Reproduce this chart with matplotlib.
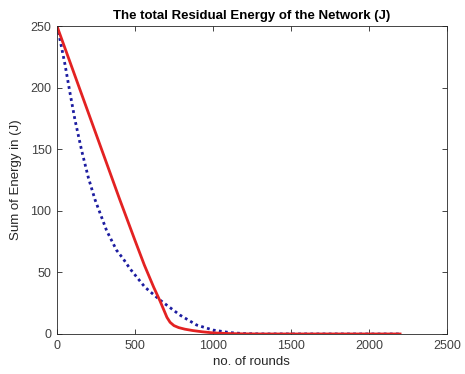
import matplotlib.pyplot as plt

# residual energy curves (rounds vs total joules left in the network)
rounds_a = [0, 100, 200, 300, 400, 500, 560, 620, 660, 685, 705, 725, 750, 780,
            820, 870, 930, 1000, 1100, 1200, 1300, 2200]
energy_a = [250, 215, 180, 145, 110, 76, 56, 38, 27, 19.5, 13.5, 9.5, 6.8, 5.2,
            3.9, 2.8, 1.8, 0.9, 0.35, 0.1, 0, 0]

rounds_b = [0, 13, 51, 83, 115, 158, 201, 244, 318, 382, 425, 468, 564, 660,
            788, 895, 1000, 1110, 1200, 1300, 2200]
energy_b = [250, 243, 219, 196, 174, 149, 127, 109, 84, 68, 61, 53, 38, 27.6,
            15.4, 7.3, 3.2, 1.1, 0.3, 0.05, 0]

xticks = [0, 500, 1000, 1500, 2000, 2500]
yticks = [0, 50, 100, 150, 200, 250]

plt.rcParams['font.family'] = ['Liberation Sans', 'DejaVu Sans']
axis_col = '#262626'

fig = plt.figure(figsize=(4.65, 3.74), dpi=100)
ax = fig.add_axes([0.1226, 0.107, 0.8384, 0.823])

ax.plot(rounds_b, energy_b, color='#1c1ca0', lw=2, linestyle=(0, (1, 1.2)))
ax.plot(rounds_a, energy_a, color='#e32222', lw=2)

ax.set_xlim(0, 2500)
ax.set_ylim(0, 250)
ax.set_xticks(xticks)
ax.set_yticks(yticks)
ax.tick_params(direction='in', length=3.5, width=0.6, top=True, right=True,
               labelsize=9, colors=axis_col, labelcolor='#404040', pad=4)
for s in ax.spines.values():
    s.set_color(axis_col)
    s.set_linewidth(0.6)

ax.set_title('The total Residual Energy of the Network (J)', fontsize=9.5,
             fontweight='bold', color='black', pad=5)
ax.set_xlabel('no. of rounds', fontsize=9.5, color='#262626', labelpad=3)
ax.set_ylabel('Sum of Energy in (J)', fontsize=9.5, color='#262626', labelpad=6)

fig.savefig('out.png', dpi=100)
